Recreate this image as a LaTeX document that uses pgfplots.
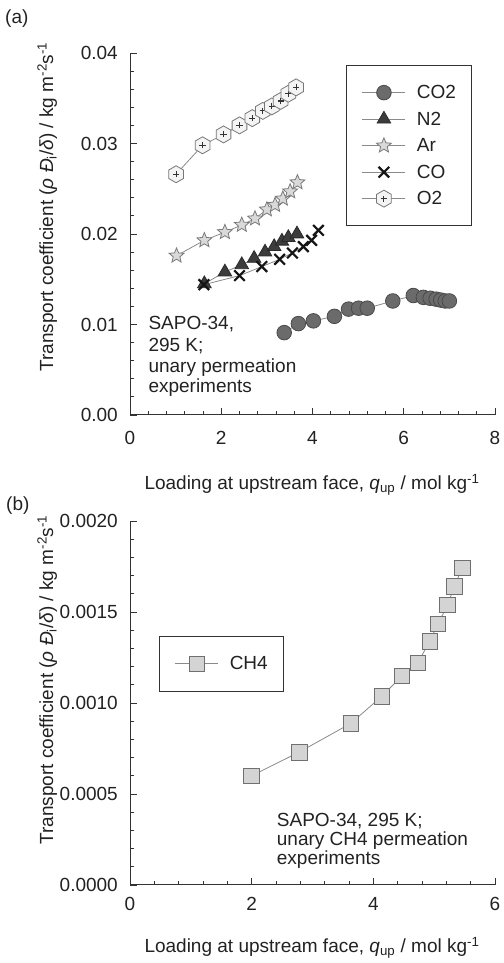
\documentclass[border=0pt]{standalone}
\usepackage{fontspec}
\setmainfont{Liberation Sans}
\usepackage{pgfplots}
\pgfplotsset{compat=1.18}

\definecolor{txt}{HTML}{222222}
\definecolor{axcol}{HTML}{333333}
\definecolor{linecol}{HTML}{8A8A8A}
\definecolor{cotwofill}{HTML}{6B6B6B}
\definecolor{cotwoedge}{HTML}{4A4A4A}
\definecolor{ntwofill}{HTML}{3C3C3C}
\definecolor{ntwoedge}{HTML}{2A2A2A}
\definecolor{arfill}{HTML}{D9D9D9}
\definecolor{aredge}{HTML}{7A7A7A}
\definecolor{cocol}{HTML}{151515}
\definecolor{otwofill}{HTML}{F4F4F4}
\definecolor{otwoedge}{HTML}{777777}
\definecolor{pluscol}{HTML}{333333}
\definecolor{chfourfill}{HTML}{D4D4D4}
\definecolor{chfouredge}{HTML}{707070}

% filled five-pointed star
\pgfdeclareplotmark{fstar}{%
  \pgfpathmoveto{\pgfpointpolar{90}{\pgfplotmarksize}}%
  \pgfpathlineto{\pgfpointpolar{126}{0.45\pgfplotmarksize}}%
  \pgfpathlineto{\pgfpointpolar{162}{\pgfplotmarksize}}%
  \pgfpathlineto{\pgfpointpolar{198}{0.45\pgfplotmarksize}}%
  \pgfpathlineto{\pgfpointpolar{234}{\pgfplotmarksize}}%
  \pgfpathlineto{\pgfpointpolar{270}{0.45\pgfplotmarksize}}%
  \pgfpathlineto{\pgfpointpolar{306}{\pgfplotmarksize}}%
  \pgfpathlineto{\pgfpointpolar{342}{0.45\pgfplotmarksize}}%
  \pgfpathlineto{\pgfpointpolar{18}{\pgfplotmarksize}}%
  \pgfpathlineto{\pgfpointpolar{54}{0.45\pgfplotmarksize}}%
  \pgfpathclose
  \pgfusepathqfillstroke
}

% hexagon with a small plus inside
\pgfdeclareplotmark{hexplus}{%
  \pgfpathmoveto{\pgfpointpolar{90}{\pgfplotmarksize}}%
  \pgfpathlineto{\pgfpointpolar{150}{\pgfplotmarksize}}%
  \pgfpathlineto{\pgfpointpolar{210}{\pgfplotmarksize}}%
  \pgfpathlineto{\pgfpointpolar{270}{\pgfplotmarksize}}%
  \pgfpathlineto{\pgfpointpolar{330}{\pgfplotmarksize}}%
  \pgfpathlineto{\pgfpointpolar{30}{\pgfplotmarksize}}%
  \pgfpathclose
  \pgfusepathqfillstroke
  \begin{pgfscope}%
    \pgfsetstrokecolor{pluscol}%
    \pgfsetlinewidth{1.1pt}%
    \pgfpathmoveto{\pgfpoint{-0.36\pgfplotmarksize}{0pt}}%
    \pgfpathlineto{\pgfpoint{0.36\pgfplotmarksize}{0pt}}%
    \pgfpathmoveto{\pgfpoint{0pt}{-0.36\pgfplotmarksize}}%
    \pgfpathlineto{\pgfpoint{0pt}{0.36\pgfplotmarksize}}%
    \pgfusepathqstroke
  \end{pgfscope}%
}

\pgfplotsset{
  panel/.style={
    scale only axis, clip=false,
    anchor=origin, at={(0pt,0pt)},
    axis lines=left,
    axis line style={-, draw=axcol, line width=1pt},
    tick align=inside,
    major tick length=7pt, minor tick length=4pt,
    every tick/.style={draw=axcol, line width=0.9pt},
    minor x tick num=4, minor y tick num=4,
    tick label style={font=\fontsize{19}{23}\selectfont, text=txt, inner sep=0pt},
    yticklabel style={xshift=-12pt},
    /pgf/number format/assume math mode=true,
    scaled y ticks=false,
    legend cell align=left,
    legend image code/.code={%
      \draw[mark repeat=2,mark phase=2] plot coordinates {(0pt,0pt) (21.5pt,0pt) (43pt,0pt)};
      \path (54pt,0pt);},
    legend style={draw=axcol, line width=0.9pt, fill=white,
      inner xsep=15.5pt, inner ysep=14pt, row sep=0pt,
      nodes={inner sep=0pt, minimum height=26.5pt,
        font=\fontsize{19}{23}\selectfont, text=txt}},
  },
  ser/.style={color=linecol, line width=0.8pt},
}

\begin{document}
\begin{tikzpicture}[font=\fontsize{19}{23}\selectfont, text=txt]
\path[use as bounding box] (0pt,0pt) rectangle (503pt,963pt);

% ---------------- panel (a): unary permeation of light gases
\begin{scope}[shift={(130pt,548pt)}]
\begin{axis}[panel,
  width=365pt, height=362pt,
  xmin=0, xmax=8, ymin=0, ymax=0.04,
  xtick={0,2,4,6,8},
  ytick={0,0.01,0.02,0.03,0.04},
  xticklabel style={yshift=-16pt},
  yticklabel style={/pgf/number format/.cd, fixed, fixed zerofill, precision=2},
  legend style={at={(0.592,0.967)}, anchor=north west},
]
\addplot[ser, mark=*, mark size=7.3pt,
  mark options={solid, fill=cotwofill, draw=cotwoedge, line width=0.8pt}]
  table {
  3.38 0.0091
  3.69 0.0101
  4.02 0.0104
  4.48 0.0109
  4.79 0.0117
  5.01 0.0118
  5.20 0.0118
  5.76 0.0126
  6.21 0.0132
  6.43 0.0130
  6.58 0.0129
  6.71 0.0128
  6.81 0.0127
  6.91 0.0126
  7.00 0.0126
  };
\addlegendentry{CO2}
\addplot[ser, mark=triangle*, mark size=7.8pt,
  mark options={solid, fill=ntwofill, draw=ntwoedge, line width=0.8pt}]
  table {
  1.63 0.0145
  2.08 0.0158
  2.45 0.0166
  2.72 0.0173
  2.96 0.0180
  3.16 0.0186
  3.33 0.0192
  3.47 0.0196
  3.66 0.0200
  };
\addlegendentry{N2}
\addplot[ser, mark=fstar, mark size=7.8pt,
  mark options={solid, fill=arfill, draw=aredge, line width=0.8pt}]
  table {
  1.02 0.0176
  1.63 0.0193
  2.08 0.0202
  2.45 0.0210
  2.74 0.0217
  3.00 0.0227
  3.18 0.0232
  3.35 0.0239
  3.51 0.0247
  3.67 0.0257
  };
\addlegendentry{Ar}
\addplot[ser, mark=x, mark size=7.5pt,
  mark options={solid, draw=cocol, line width=2.2pt}]
  table {
  1.62 0.0144
  2.40 0.0154
  2.89 0.0164
  3.28 0.0172
  3.56 0.0179
  3.80 0.0186
  3.98 0.0193
  4.13 0.0204
  };
\addlegendentry{CO}
\addplot[ser, mark=hexplus, mark size=8.5pt,
  mark options={solid, fill=otwofill, draw=otwoedge, line width=0.8pt}]
  table {
  1.01 0.0266
  1.59 0.0298
  2.05 0.0310
  2.40 0.0320
  2.68 0.0328
  2.91 0.0336
  3.11 0.0341
  3.30 0.0347
  3.47 0.0355
  3.64 0.0362
  };
\addlegendentry{O2}
\end{axis}
\end{scope}

% ---------------- panel (b): unary CH4 permeation
\begin{scope}[shift={(130pt,78pt)}]
\begin{axis}[panel,
  width=365pt, height=364pt,
  xmin=0, xmax=6, ymin=0, ymax=0.002,
  xtick={0,2,4,6},
  ytick={0,0.0005,0.001,0.0015,0.002},
  xticklabel style={yshift=-12.5pt},
  yticklabel style={/pgf/number format/.cd, fixed, fixed zerofill, precision=4},
  legend style={at={(0.0795,0.684)}, anchor=north west},
]
\addplot[ser, mark=square*, mark size=7.8pt,
  mark options={solid, fill=chfourfill, draw=chfouredge, line width=0.8pt}]
  table {
  2.00 0.000600
  2.78 0.000730
  3.63 0.000888
  4.14 0.001037
  4.47 0.001148
  4.73 0.001221
  4.93 0.001340
  5.06 0.001434
  5.22 0.001538
  5.33 0.001639
  5.46 0.001743
  };
\addlegendentry{CH4}
\end{axis}
\end{scope}

% panel tags
\node[anchor=base west, inner sep=0pt] at (5pt,939pt) {(a)};
\node[anchor=base west, inner sep=0pt] at (6pt,452pt) {(b)};

% axis titles
\node[anchor=base, inner sep=0pt] at (312pt,473pt)
  {Loading at upstream face, \textit{q}\textsubscript{up} / mol kg\textsuperscript{-1}};
\node[anchor=base, inner sep=0pt] at (312pt,10pt)
  {Loading at upstream face, \textit{q}\textsubscript{up} / mol kg\textsuperscript{-1}};
\node[anchor=base, inner sep=0pt, rotate=90] at (53pt,756pt)
  {Transport coefficient (\textit{ρ Đ}\textsubscript{i}/\textit{δ}) / kg m\textsuperscript{-2}s\textsuperscript{-1}};
\node[anchor=base, inner sep=0pt, rotate=90] at (53pt,283pt)
  {Transport coefficient (\textit{ρ Đ}\textsubscript{i}/\textit{δ}) / kg m\textsuperscript{-2}s\textsuperscript{-1}};

% experimental conditions
\node[anchor=base west, inner sep=0pt] at (148.3pt,633.7pt) {SAPO-34,};
\node[anchor=base west, inner sep=0pt] at (148.3pt,611pt) {295 K;};
\node[anchor=base west, inner sep=0pt] at (148.3pt,590pt) {unary permeation};
\node[anchor=base west, inner sep=0pt] at (148.3pt,570.5pt) {experiments};

\node[anchor=base west, inner sep=0pt] at (276.7pt,136.3pt) {SAPO-34, 295 K;};
\node[anchor=base west, inner sep=0pt] at (276.7pt,117.3pt) {unary CH4 permeation};
\node[anchor=base west, inner sep=0pt] at (276.7pt,98pt) {experiments};
\end{tikzpicture}
\end{document}
